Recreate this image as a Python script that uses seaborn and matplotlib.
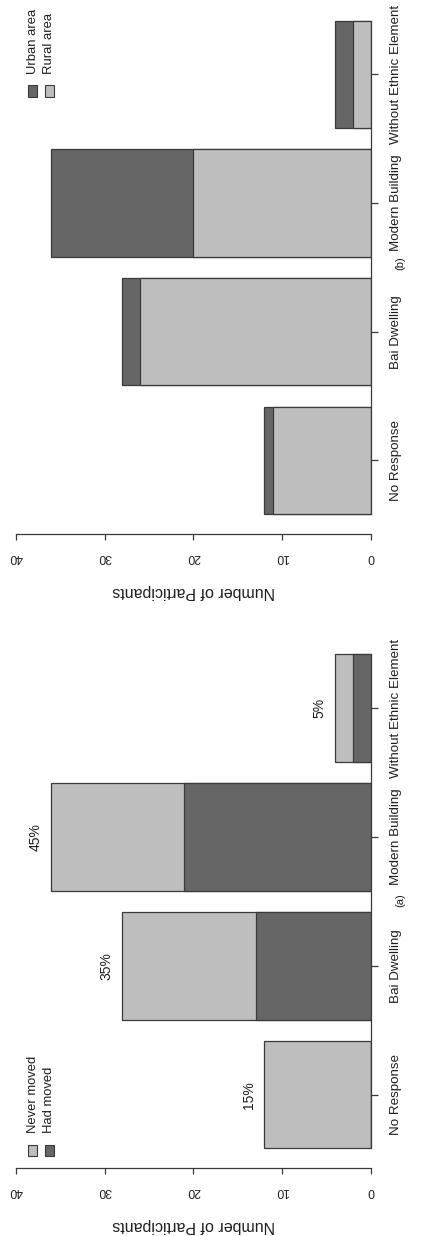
import matplotlib
matplotlib.use("Agg")
import matplotlib.pyplot as plt
import seaborn as sns
from matplotlib.patches import Rectangle

# Housing preference of participants, split two ways
categories = ["No Response", "Bai Dwelling", "Modern Building", "Without Ethnic Element"]

# Panel (a): migration history
had_moved = [0, 13, 21, 2]
never_moved = [12, 15, 15, 2]

# Panel (b): place of residence
rural_area = [11, 26, 20, 2]
urban_area = [1, 2, 16, 2]

value_ticks = [0, 10, 20, 30, 40]

sns.set_style("ticks")
plt.rcParams["font.family"] = ["Liberation Sans", "DejaVu Sans"]

LIGHT = "#bebebe"
DARK = "#666666"
EDGE = "#3a3a3a"
TEXT = "#1e1e1e"

W, H = 426, 1236
fig = plt.figure(figsize=(W / 100, H / 100), dpi=100)


def fx(px):
    return px / W


def fy(py):
    return 1 - py / H


def panel(rect, ylim, base, top, base_color, top_color, show_pct):
    ax = fig.add_axes(rect)
    totals = [b + t for b, t in zip(base, top)]
    common = dict(orient="h", saturation=1, width=1 / 1.2, edgecolor=EDGE,
                  linewidth=0.9, errorbar=None, ax=ax)
    sns.barplot(x=totals, y=categories, color=top_color, **common)
    sns.barplot(x=base, y=categories, color=base_color, **common)

    ax.set_xlim(40, 0)
    ax.set_ylim(*ylim)
    ax.set_xticks(value_ticks)
    ax.set_xticklabels([str(v) for v in value_ticks])
    ax.set_ylabel("")
    ax.set_xlabel("Number of Participants", rotation=180, fontsize=11.5,
                  color=TEXT, labelpad=15)

    for side in ("left", "top"):
        ax.spines[side].set_visible(False)
    ax.spines["right"].set_bounds(-0.5 / 1.2, len(categories) - 1 + 0.5 / 1.2)
    for side in ("right", "bottom"):
        ax.spines[side].set_color(EDGE)
        ax.spines[side].set_linewidth(0.9)

    ax.yaxis.tick_right()
    ax.tick_params(axis="y", left=False, right=True, length=5, width=0.9,
                   color=EDGE, pad=9, labelsize=9.6, labelcolor=TEXT,
                   labelrotation=90)
    ax.tick_params(axis="x", length=4.3, width=0.9, color=EDGE, pad=8,
                   labelsize=8.8, labelcolor=TEXT, labelrotation=180)
    for lab in ax.get_yticklabels():
        lab.set_va("center")
        lab.set_ha("left")

    if show_pct:
        grand = sum(totals)
        for i, tot in enumerate(totals):
            ax.text(tot + 1.75, i, f"{round(100 * tot / grand)}%", rotation=90,
                    ha="center", va="center", fontsize=10, color=TEXT)
    return ax


def legend(entries, square_y, text_bottom):
    for (label, color), x in zip(entries, (32.5, 49.5)):
        fig.patches.append(Rectangle((fx(x - 4.5), fy(square_y + 5.5)), 9 / W, 11 / H,
                                     transform=fig.transFigure, facecolor=color,
                                     edgecolor=EDGE, linewidth=0.8))
        fig.text(fx(x), fy(text_bottom), label, rotation=90, ha="center",
                 va="bottom", fontsize=9.4, color=TEXT)


# Panel (b) in the upper half
panel([fx(15.7), fy(534), (371 - 15.7) / W, (534 - 5) / H], (-0.573, 3.540),
      rural_area, urban_area, LIGHT, DARK, show_pct=False)
legend([("Urban area", DARK), ("Rural area", LIGHT)], 91, 74)
fig.text(fx(400), fy(263), "(b)", rotation=90, ha="center", va="center",
         fontsize=8, color=TEXT)

# Panel (a) in the lower half
panel([fx(15.7), fy(1168.3), (371 - 15.7) / W, (1168.3 - 636) / H], (-0.571, 3.559),
      had_moved, never_moved, DARK, LIGHT, show_pct=True)
legend([("Never moved", LIGHT), ("Had moved", DARK)], 1150, 1133)
fig.text(fx(400), fy(900), "(a)", rotation=90, ha="center", va="center",
         fontsize=8, color=TEXT)

fig.savefig("out.png", dpi=100)
